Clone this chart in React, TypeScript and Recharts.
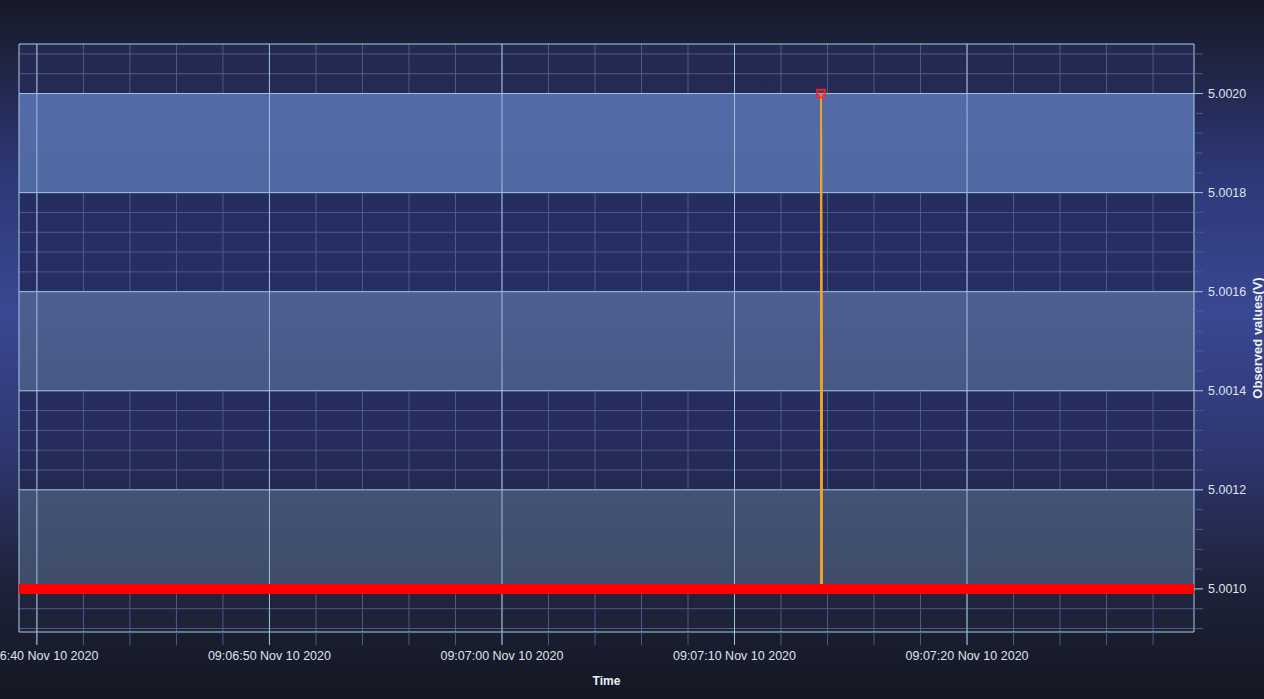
import React from 'react';
import { ComposedChart, Line, Scatter, XAxis, YAxis, CartesianGrid, Label } from 'recharts';

// time in seconds after 09:06:40 Nov 10 2020
const xDomain = [-0.77, 49.76];
const yDomain = [5.000913, 5.0021];

const majorTimes = [0, 10, 20, 30, 40];
const timeLabels = [
  '09:06:40 Nov 10 2020',
  '09:06:50 Nov 10 2020',
  '09:07:00 Nov 10 2020',
  '09:07:10 Nov 10 2020',
  '09:07:20 Nov 10 2020',
];
const minorTimes = [0, 2, 4, 6, 8, 10, 12, 14, 16, 18, 20, 22, 24, 26, 28, 30, 32, 34, 36, 38, 40, 42, 44, 46, 48];

const majorValues = [5.001, 5.0012, 5.0014, 5.0016, 5.0018, 5.002];
const minorValues = [
  5.00092, 5.00096, 5.001, 5.00104, 5.00108, 5.00112, 5.00116, 5.0012, 5.00124, 5.00128,
  5.00132, 5.00136, 5.0014, 5.00144, 5.00148, 5.00152, 5.00156, 5.0016, 5.00164, 5.00168,
  5.00172, 5.00176, 5.0018, 5.00184, 5.00188, 5.00192, 5.00196, 5.002, 5.00204, 5.00208,
];

// observed values (V)
const observedTimes = [-0.77, 33.72, 33.72, 33.76, 33.76, 49.76];
const observedValues = [5.001, 5.001, 5.002, 5.0015, 5.001, 5.001];

// lower limit line
const limitTimes = [-0.77, 49.76];
const limitValues = [5.001, 5.001];

// peak marker
const peakTimes = [33.72];
const peakValues = [5.002];

const observedData = observedTimes.map((t, i) => ({ t, v: observedValues[i] }));
const limitData = limitTimes.map((t, i) => ({ t, v: limitValues[i] }));
const peakData = peakTimes.map((t, i) => ({ t, v: peakValues[i] }));

const FONT = '"Liberation Sans", Arial, sans-serif';
const MAJOR = '#9ec3dd';
const MINOR = '#4c5b8c';
const BORDER = '#a9cde3';
const TICK_TEXT = '#dde3ee';

const isMajor = (list: number[], v: number) => list.some((m) => Math.abs(m - v) < 1e-9);

const XTick = (props: any) => {
  const { x, y, payload } = props;
  const idx = majorTimes.findIndex((m) => Math.abs(m - payload.value) < 1e-9);
  if (idx < 0) return <g />;
  return (
    <g>
      <line x1={x} x2={x} y1={y - 19} y2={y - 6} stroke={MAJOR} />
      <text x={x} y={y} dy="0.71em" textAnchor="middle" fill={TICK_TEXT} fontSize={12.5} fontFamily={FONT}>
        {timeLabels[idx]}
      </text>
    </g>
  );
};

const YTick = (props: any) => {
  const { x, y, payload } = props;
  if (!isMajor(majorValues, payload.value)) return <g />;
  return (
    <g>
      <line x1={x - 14} x2={x - 5} y1={y} y2={y} stroke={MAJOR} />
      <text x={x} y={y} dy="0.355em" textAnchor="start" fill={TICK_TEXT} fontSize={12.5} fontFamily={FONT}>
        {payload.value.toFixed(4)}
      </text>
    </g>
  );
};

const YTitle = (props: any) => {
  const vb = props.viewBox;
  const cx = vb.x + 63;
  const cy = vb.y + vb.height / 2;
  return (
    <text x={cx} y={cy} transform={`rotate(-90, ${cx}, ${cy})`} textAnchor="middle" dominantBaseline="central"
      fill="#eef1f7" fontSize={13} fontWeight="bold" fontFamily={FONT}>
      Observed values(V)
    </text>
  );
};

const XTitle = (props: any) => {
  const vb = props.viewBox;
  return (
    <text x={vb.x + vb.width / 2} y={vb.y + 49} textAnchor="middle" dominantBaseline="central"
      fill="#eef1f7" fontSize={12} fontWeight="bold" fontFamily={FONT}>
      Time
    </text>
  );
};

const PeakMarker = (props: any) => (
  <rect x={props.cx - 4} y={props.cy - 4} width={8} height={8} fill="rgba(255,60,80,0.3)" stroke="#ff2030" strokeWidth={1.5} />
);

const App: React.FC = () => {
  return (
    <div
      style={{
        position: 'absolute',
        left: 0,
        top: 0,
        width: 1264,
        height: 699,
        background:
          'linear-gradient(to bottom, #161926 0%, #1e2340 8%, #2e3878 25%, #3a4792 45%, #2e3670 65%, #1d2138 85%, #141722 100%)',
      }}
    >
      <ComposedChart width={1264} height={699} margin={{ top: 44, right: 0, bottom: 0, left: 19 }}>
        <defs>
          <linearGradient id="plotBg" gradientUnits="userSpaceOnUse" x1="0" y1="44" x2="0" y2="632">
            <stop offset="0%" stopColor="#23294f" />
            <stop offset="33%" stopColor="#262e64" />
            <stop offset="67%" stopColor="#262c5c" />
            <stop offset="100%" stopColor="#1e2236" />
          </linearGradient>
          <linearGradient id="band" gradientUnits="userSpaceOnUse" x1="0" y1="44" x2="0" y2="632">
            <stop offset="0%" stopColor="#556ca9" />
            <stop offset="25%" stopColor="#5068a2" />
            <stop offset="50%" stopColor="#4b5b8c" />
            <stop offset="85%" stopColor="#414f6e" />
            <stop offset="100%" stopColor="#3d4966" />
          </linearGradient>
        </defs>
        <CartesianGrid
          horizontalValues={minorValues}
          verticalValues={minorTimes}
          stroke={MINOR}
          fill="url(#plotBg)"
          fillOpacity={1}
        />
        <CartesianGrid
          horizontalValues={majorValues}
          verticalValues={majorTimes}
          stroke={MAJOR}
          horizontalFill={['none', 'url(#band)']}
          fillOpacity={1}
        />
        <CartesianGrid horizontalValues={yDomain} verticalValues={xDomain} stroke={BORDER} />
        <XAxis
          dataKey="t"
          type="number"
          domain={xDomain}
          allowDataOverflow
          ticks={minorTimes}
          interval={0}
          height={67}
          axisLine={false}
          tickSize={13}
          tickMargin={6}
          tickLine={{ stroke: MINOR }}
          tick={XTick}
        >
          <Label content={XTitle} />
        </XAxis>
        <YAxis
          dataKey="v"
          orientation="right"
          type="number"
          domain={yDomain}
          allowDataOverflow
          ticks={minorValues}
          interval={0}
          width={70}
          axisLine={false}
          tickSize={9}
          tickMargin={5}
          tickLine={{ stroke: MINOR }}
          tick={YTick}
        >
          <Label content={YTitle} />
        </YAxis>
        <Line data={observedData} dataKey="v" type="linear" stroke="#f0a228" strokeWidth={2} dot={false} isAnimationActive={false} />
        <Line data={limitData} dataKey="v" type="linear" stroke="#ff0000" strokeWidth={10} dot={false} isAnimationActive={false} />
        <Scatter data={peakData} dataKey="v" shape={PeakMarker} isAnimationActive={false} />
      </ComposedChart>
    </div>
  );
};

export default App;
